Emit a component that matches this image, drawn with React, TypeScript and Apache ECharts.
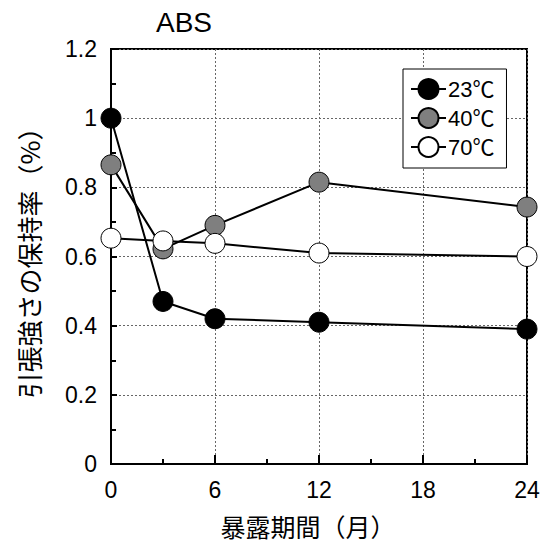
import React, { useEffect, useRef } from "react";
import * as echarts from "echarts";

const months = [0, 3, 6, 12, 24];
const s23 = [1.0, 0.47, 0.42, 0.41, 0.39];
const s40 = [0.865, 0.622, 0.69, 0.815, 0.743];
const s70 = [0.653, 0.645, 0.638, 0.61, 0.6];
const seriesNames = ["23℃", "40℃", "70℃"];
const title = "ABS";
const xName = "暴露期間（月）";
const yName = "引張強さの保持率（%）";

const NUM_FONT = "'Liberation Sans', Arial, 'Noto Sans CJK JP', sans-serif";
const CJK_FONT = "'Noto Sans CJK JP', sans-serif";

export default function App() {
  const ref = useRef<HTMLDivElement>(null);
  useEffect(() => {
    if (!ref.current) return;
    const chart = echarts.init(ref.current, null, { renderer: "svg" });
    const mk = (name: string, vals: number[], fill: string) => ({
      name,
      type: "line",
      data: months.map((m, i) => [m, vals[i]]),
      symbol: "circle",
      symbolSize: 20,
      lineStyle: { color: "#000", width: 2 },
      itemStyle: { color: fill, borderColor: "#000", borderWidth: 1 },
      emphasis: { disabled: true },
    });
    chart.setOption({
      animation: false,
      backgroundColor: "#fff",
      title: {
        text: title,
        left: 156,
        top: 8,
        padding: 0,
        textStyle: { fontFamily: NUM_FONT, fontSize: 28, fontWeight: "normal", color: "#000" },
      },
      legend: {
        left: 403,
        top: 69,
        orient: "vertical",
        padding: [9, 12, 10, 7],
        itemWidth: 35,
        itemHeight: 25,
        itemGap: 7,
        borderColor: "#000",
        borderWidth: 1,
        backgroundColor: "#fff",
        textStyle: { fontFamily: NUM_FONT, fontSize: 22, color: "#000", padding: [0, 0, 0, -3] },
        data: seriesNames,
      },
      grid: {
        left: 111,
        right: 20,
        top: 49,
        bottom: 79,
        outerBoundsMode: "none",
        containLabel: false,
        show: true,
        borderColor: "#000",
        borderWidth: 2,
        backgroundColor: "transparent",
      },
      xAxis: {
        type: "value",
        min: 0,
        max: 24,
        interval: 6,
        name: xName,
        nameLocation: "middle",
        nameGap: 49,
        nameTextStyle: { fontFamily: CJK_FONT, fontSize: 25, lineHeight: 26, color: "#000", padding: [0, 22, 0, 0] },
        axisLine: { lineStyle: { color: "#000", width: 2 } },
        axisTick: { inside: true, length: 9, lineStyle: { color: "#000", width: 2 } },
        minorTick: { show: true, splitNumber: 2, length: 5, lineStyle: { color: "#000", width: 2 } },
        axisLabel: { fontFamily: NUM_FONT, fontSize: 23, color: "#000", margin: 14 },
        splitLine: { show: true, lineStyle: { color: "#666", type: [2, 2], width: 1 } },
      },
      yAxis: {
        type: "value",
        min: 0,
        max: 1.2,
        interval: 0.2,
        name: yName,
        nameLocation: "middle",
        nameGap: 70,
        nameTextStyle: { fontFamily: CJK_FONT, fontSize: 26, color: "#000" },
        axisLine: { show: true, lineStyle: { color: "#000", width: 2 } },
        axisTick: { show: true, inside: true, length: 6, lineStyle: { color: "#000", width: 2 } },
        minorTick: { show: true, splitNumber: 2, length: 5, lineStyle: { color: "#000", width: 2 } },
        axisLabel: { fontFamily: NUM_FONT, fontSize: 23, color: "#000", margin: 14 },
        splitLine: { show: true, lineStyle: { color: "#666", type: [2, 2], width: 1 } },
      },
      series: [
        mk(seriesNames[0], s23, "#000"),
        mk(seriesNames[1], s40, "#7f7f7f"),
        mk(seriesNames[2], s70, "#fff"),
      ],
    });
    return () => chart.dispose();
  }, []);
  return <div ref={ref} style={{ width: 547, height: 543, position: "absolute", left: 0, top: 0 }} />;
}
